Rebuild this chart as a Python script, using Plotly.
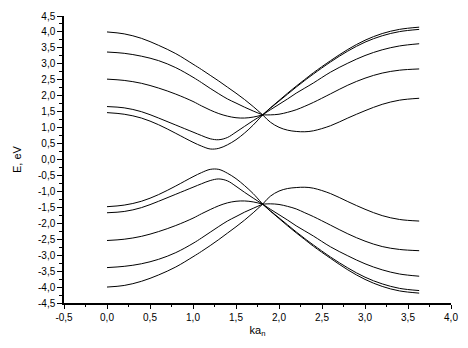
import plotly.graph_objects as go

# k grid (ka_n) left of the crossing point and right of it
x_left = [0.0, 0.2, 0.4, 0.6, 0.8, 1.0, 1.1, 1.2, 1.3, 1.4, 1.5, 1.6, 1.7, 1.81]
x_right = [1.81, 1.9, 2.0, 2.1, 2.2, 2.3, 2.4, 2.6, 2.8, 3.0, 3.2, 3.4, 3.63]

# conduction-like (upper) bands, left part
up_left_1 = [4.00, 3.94, 3.80, 3.58, 3.32, 2.99, 2.82, 2.64, 2.46, 2.27, 2.08, 1.88, 1.66, 1.40]
up_left_2 = [3.37, 3.33, 3.24, 3.10, 2.88, 2.58, 2.41, 2.23, 2.06, 1.90, 1.77, 1.64, 1.52, 1.40]
up_left_3 = [2.52, 2.48, 2.39, 2.24, 2.05, 1.82, 1.68, 1.55, 1.44, 1.36, 1.31, 1.30, 1.33, 1.40]
up_left_4 = [1.66, 1.62, 1.50, 1.30, 1.08, 0.86, 0.75, 0.65, 0.62, 0.69, 0.86, 1.04, 1.22, 1.40]
up_left_5 = [1.47, 1.42, 1.30, 1.09, 0.82, 0.54, 0.42, 0.33, 0.35, 0.46, 0.62, 0.83, 1.08, 1.40]

# upper bands, right part
up_right_1 = [1.40, 1.62, 1.85, 2.08, 2.30, 2.51, 2.72, 3.10, 3.45, 3.74, 3.95, 4.08, 4.15]
up_right_2 = [1.40, 1.61, 1.83, 2.05, 2.27, 2.48, 2.68, 3.06, 3.40, 3.68, 3.88, 4.01, 4.08]
up_right_3 = [1.40, 1.56, 1.73, 1.90, 2.08, 2.24, 2.40, 2.74, 3.02, 3.26, 3.44, 3.56, 3.63]
up_right_4 = [1.40, 1.40, 1.42, 1.48, 1.56, 1.67, 1.79, 2.06, 2.33, 2.55, 2.71, 2.80, 2.84]
up_right_5 = [1.40, 1.17, 1.01, 0.92, 0.88, 0.87, 0.90, 1.06, 1.30, 1.53, 1.73, 1.86, 1.92]

# valence-like (lower) bands, left part
lo_left_1 = [-4.00, -3.95, -3.82, -3.62, -3.37, -3.05, -2.88, -2.70, -2.51, -2.31, -2.11, -1.90, -1.67, -1.40]
lo_left_2 = [-3.39, -3.35, -3.27, -3.13, -2.92, -2.63, -2.46, -2.28, -2.10, -1.93, -1.79, -1.65, -1.53, -1.40]
lo_left_3 = [-2.54, -2.50, -2.41, -2.26, -2.07, -1.84, -1.70, -1.57, -1.45, -1.36, -1.31, -1.30, -1.33, -1.40]
lo_left_4 = [-1.67, -1.63, -1.51, -1.31, -1.09, -0.87, -0.76, -0.66, -0.61, -0.67, -0.84, -1.03, -1.21, -1.40]
lo_left_5 = [-1.48, -1.43, -1.31, -1.10, -0.83, -0.54, -0.41, -0.31, -0.31, -0.43, -0.60, -0.82, -1.07, -1.40]

# lower bands, right part
lo_right_1 = [-1.40, -1.62, -1.85, -2.08, -2.30, -2.51, -2.72, -3.10, -3.46, -3.76, -3.98, -4.12, -4.19]
lo_right_2 = [-1.40, -1.61, -1.83, -2.05, -2.27, -2.48, -2.68, -3.06, -3.40, -3.69, -3.90, -4.04, -4.11]
lo_right_3 = [-1.40, -1.56, -1.73, -1.90, -2.08, -2.24, -2.40, -2.74, -3.02, -3.27, -3.46, -3.59, -3.66]
lo_right_4 = [-1.40, -1.39, -1.41, -1.47, -1.55, -1.67, -1.79, -2.06, -2.33, -2.56, -2.73, -2.82, -2.86]
lo_right_5 = [-1.40, -1.15, -0.99, -0.91, -0.88, -0.87, -0.90, -1.07, -1.32, -1.56, -1.76, -1.88, -1.93]

# tick labels (comma decimal, as in the original)
x_tickvals = [-0.5, 0.0, 0.5, 1.0, 1.5, 2.0, 2.5, 3.0, 3.5, 4.0]
x_ticktext = ["-0,5", "0,0", "0,5", "1,0", "1,5", "2,0", "2,5", "3,0", "3,5", "4,0"]
y_tickvals = [-4.5, -4.0, -3.5, -3.0, -2.5, -2.0, -1.5, -1.0, -0.5, 0.0,
              0.5, 1.0, 1.5, 2.0, 2.5, 3.0, 3.5, 4.0, 4.5]
y_ticktext = ["-4,5", "-4,0", "-3,5", "-3,0", "-2,5", "-2,0", "-1,5", "-1,0", "-0,5", "0,0",
              "0,5", "1,0", "1,5", "2,0", "2,5", "3,0", "3,5", "4,0", "4,5"]

left_series = [up_left_1, up_left_2, up_left_3, up_left_4, up_left_5,
               lo_left_1, lo_left_2, lo_left_3, lo_left_4, lo_left_5]
right_series = [up_right_1, up_right_2, up_right_3, up_right_4, up_right_5,
                lo_right_1, lo_right_2, lo_right_3, lo_right_4, lo_right_5]

fig = go.Figure()
for ys in left_series:
    fig.add_trace(go.Scatter(x=x_left, y=ys, mode="lines",
                             line=dict(color="black", width=1, shape="spline", smoothing=1.0),
                             showlegend=False, hoverinfo="skip"))
for ys in right_series:
    fig.add_trace(go.Scatter(x=x_right, y=ys, mode="lines",
                             line=dict(color="black", width=1, shape="spline", smoothing=1.0),
                             showlegend=False, hoverinfo="skip"))

font = dict(family="Liberation Sans, Arial, sans-serif", size=10, color="black")

fig.update_layout(
    width=468, height=348,
    margin=dict(l=64, r=11, t=10, b=45),
    paper_bgcolor="white", plot_bgcolor="white",
    font=font,
    showlegend=False,
)
fig.update_xaxes(
    range=[-0.5, 4.0], tickvals=x_tickvals, ticktext=x_ticktext,
    showgrid=False, zeroline=False,
    showline=True, linecolor="black", linewidth=2,
    ticks="outside", ticklen=4, tickwidth=1, tickcolor="black",
    minor=dict(ticks="outside", ticklen=2, tickwidth=1, tickcolor="black", dtick=0.25, tick0=0),
    title=dict(text="ka<sub>n</sub>", font=dict(family="Liberation Sans, Arial, sans-serif", size=11), standoff=4),
)
fig.update_yaxes(
    range=[-4.5, 4.5], tickvals=y_tickvals, ticktext=y_ticktext,
    showgrid=False, zeroline=False,
    showline=True, linecolor="black", linewidth=1.5,
    ticks="outside", ticklen=5, tickwidth=1, tickcolor="black",
    minor=dict(ticks="outside", ticklen=3, tickwidth=1, tickcolor="black", dtick=0.25, tick0=0),
    title=dict(text="E, eV", font=dict(family="Liberation Sans, Arial, sans-serif", size=11), standoff=14),
)

fig.write_html("out.html", config={"displayModeBar": False},
               post_script="document.body.style.margin='0';")
